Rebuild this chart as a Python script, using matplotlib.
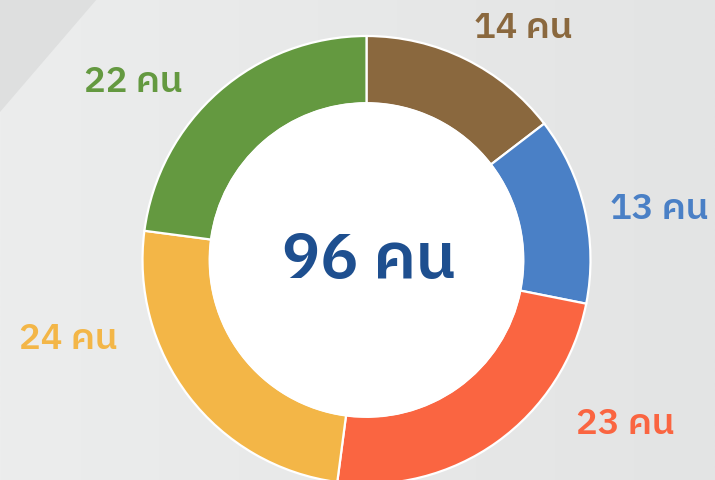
import matplotlib
matplotlib.use("Agg")
import matplotlib.pyplot as plt
from matplotlib import font_manager
from matplotlib.ft2font import FT2Font
from matplotlib.patches import Circle
from matplotlib.colors import LinearSegmentedColormap
import numpy as np

# ---- data ----
values = [14, 13, 23, 24, 22]
labels = ["14 คน", "13 คน", "23 คน", "24 คน", "22 คน"]
colors = ["#8A683E", "#4A80C6", "#FA6541", "#F3B647", "#649940"]
total_label = "96 คน"

# find a font with Thai glyphs
cands = []
for f in font_manager.fontManager.ttflist:
    try:
        cm = FT2Font(f.fname).get_charmap()
        if 0x0E04 in cm and 0x0E19 in cm:
            cands.append(f)
    except Exception:
        pass
pref = sorted(cands, key=lambda f: (0 if 'Sans' in f.name else 1))
thai_names = [f.name for f in pref]
families = (thai_names[:1] if thai_names else []) + ["DejaVu Sans"]

W, H = 715, 481
fig = plt.figure(figsize=(W / 100, H / 100), dpi=100)

# background
bg = fig.add_axes([0, 0, 1, 1])
bg.set_xlim(0, W); bg.set_ylim(H, 0); bg.axis("off")
grad = np.linspace(0, 1, 256)[None, :]
cmap = LinearSegmentedColormap.from_list("g", ["#ECEDED", "#E3E4E4"])
bg.imshow(grad, extent=[0, W, H, 0], cmap=cmap, aspect="auto")
bg.fill([0, 97, 0], [0, 0, 113], color="#DEDFDF", lw=0)

# donut: center (366,261) px, outer radius 224 px
cx, cy, R = 366.5, 261, 224
ax = fig.add_axes([(cx - R) / W, 1 - (cy + R) / H, 2 * R / W, 2 * R / H])
ax.pie(values, colors=colors, startangle=90, counterclock=False,
       radius=1, wedgeprops=dict(width=0.30, edgecolor="white", linewidth=1.6))
ax.add_patch(Circle((0, 0), 0.70, facecolor="white", edgecolor="white", lw=1.2, zorder=5))
ax.set_xlim(-1, 1); ax.set_ylim(-1, 1)
ax.set_aspect("auto")
ax.axis("off")
ax.text(0.01, 0.0, total_label, ha="center", va="center", fontsize=46,
        fontweight="semibold", color="#1E4F8F", family=families, zorder=6)

# label positions (pixel centres)
label_pos = [(523, 28), (659, 210), (625, 425), (68, 340), (133, 83)]
for lab, col, (x, y) in zip(labels, colors, label_pos):
    bg.text(x, y, lab, ha="center", va="center", fontsize=26,
            fontweight="semibold", color=col, family=families)

fig.savefig("out.png", dpi=100)
